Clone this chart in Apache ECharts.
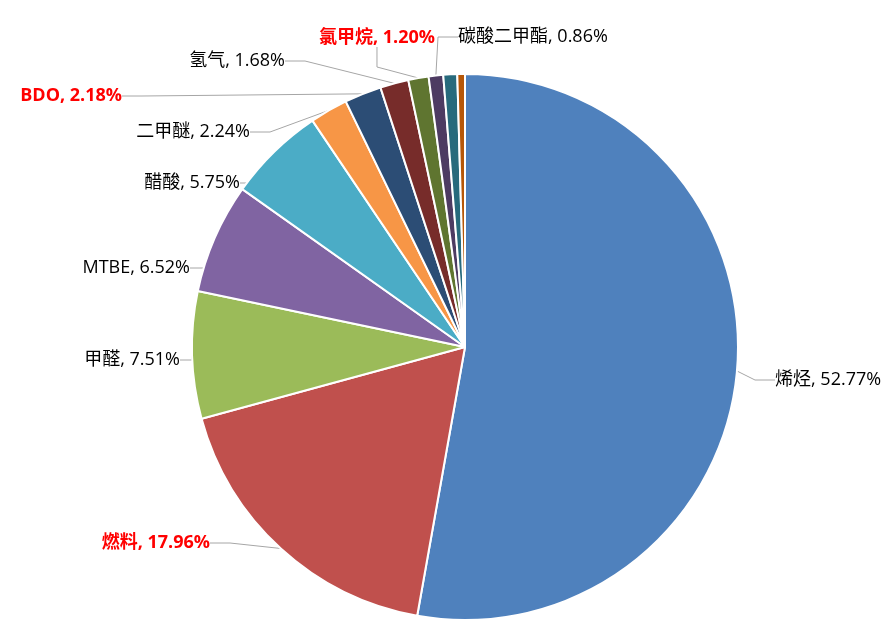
<!DOCTYPE html>
<html>
<head>
<meta charset="utf-8">
<script src="https://cdn.jsdelivr.net/npm/echarts@6/dist/echarts.min.js"></script>
<style>html,body{margin:0;padding:0;background:#fff;}#c{width:895px;height:628px;}</style>
</head>
<body>
<div id="c"></div>
<script>
const categories = ['烯烃','燃料','甲醛','MTBE','醋酸','二甲醚','BDO','氢气','氯甲烷','碳酸二甲酯','其他1','其他2'];
const values = [52.77,17.96,7.51,6.52,5.75,2.24,2.18,1.68,1.20,0.86,0.82,0.45];
const labelShown = [true,true,true,true,true,true,true,true,true,true,false,false];
const highlighted = ['燃料','BDO','氯甲烷'];
const colors = ['#4F81BD','#C0504D','#9BBB59','#8064A2','#4BACC6','#F79646','#2C4D75','#772C2A','#5F7530','#4D3B62','#276A7C','#B65708'];
// label placement (x, y, align)
const labelAnchors = [
  [775,380,'left'],[210,543,'right'],[180,360,'right'],[190,268,'right'],
  [240,183,'right'],[250,132,'right'],[122,96,'right'],[285,61,'right'],
  [435,38,'right'],[458,37,'left'],[0,0,'left'],[0,0,'left']
];

const chart = echarts.init(document.getElementById('c'));
const data = categories.map((n,i)=>{
  const hi = highlighted.includes(n);
  return {
    name:n, value:values[i],
    itemStyle:{color:colors[i]},
    label:{show:labelShown[i], color: hi?'#FF0000':'#000', fontWeight: hi?'bold':'normal'},
    labelLine:{show:labelShown[i]}
  };
});
chart.setOption({
  animation:false,
  series:[{
    type:'pie',
    center:[465,347],
    radius:[0,273],
    startAngle:90,
    clockwise:true,
    data:data,
    itemStyle:{borderColor:'#fff',borderWidth:2},
    label:{
      position:'outside',
      fontFamily:'"Open Sans", "Noto Sans CJK SC", sans-serif',
      fontSize:18,
      formatter:p=>p.name+', '+p.value.toFixed(2)+'%'
    },
    labelLine:{length:15,length2:20,lineStyle:{color:'#A6A6A6',width:1}},
    labelLayout:function(params){
      const a = labelAnchors[params.dataIndex];
      return {x:a[0], y:a[1], align:a[2], verticalAlign:'middle'};
    }
  }]
});
</script>
</body>
</html>
